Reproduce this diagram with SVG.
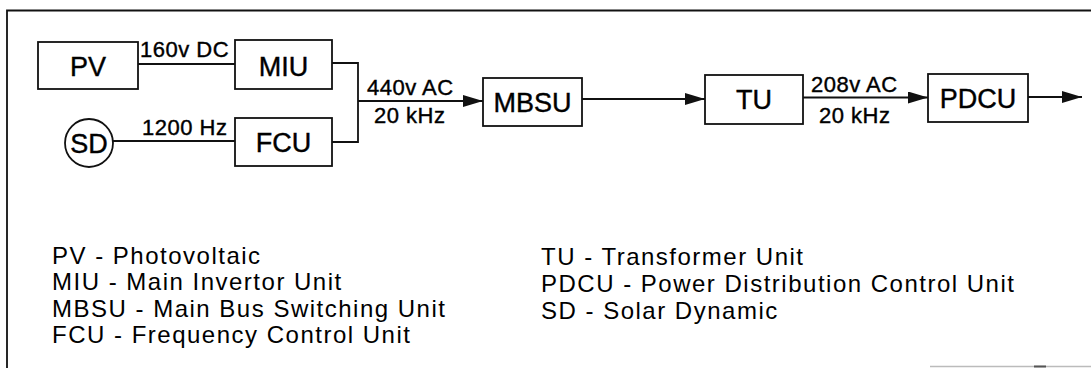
<svg xmlns="http://www.w3.org/2000/svg" width="1091" height="368" viewBox="0 0 1091 368">
<style>
.box{fill:#fff;stroke:#111;stroke-width:1.8}
.ln{fill:none;stroke:#111;stroke-width:1.8}
.lbl{font-family:"Liberation Sans",Arial,sans-serif;font-size:27px;fill:#000;stroke:#000;stroke-width:0.4;text-anchor:middle}
.edge{font-family:"Liberation Sans",Arial,sans-serif;font-size:22px;fill:#000;stroke:#000;stroke-width:0.4;letter-spacing:0.5px}
.leg{font-family:"Liberation Sans",Arial,sans-serif;font-size:24px;fill:#000;letter-spacing:1.5px}
</style>
<defs>
<marker id="arr" markerUnits="userSpaceOnUse" markerWidth="22" markerHeight="14" refX="20" refY="6" orient="auto">
<path d="M0,0 L20,6 L0,12 Z" fill="#111"/>
</marker>
</defs>
<rect width="1091" height="368" fill="#fff"/>
<g id="frame">
<path class="ln" d="M7,368 V10.5 H1091"/>
<path d="M930,366.5 H1091" stroke="#bbb" stroke-width="1.5"/>
<path d="M1034,366.5 H1046" stroke="#555" stroke-width="2"/>
</g>
<g id="connectors">
<path class="ln" d="M138,64 H235"/>
<path class="ln" d="M113,141 H235"/>
<path class="ln" d="M332,63 H358 V142 H332"/>
<path class="ln" d="M358,101 H483" marker-end="url(#arr)"/>
<path class="ln" d="M582,99 H705" marker-end="url(#arr)"/>
<path class="ln" d="M803,97.5 H928" marker-end="url(#arr)"/>
<path class="ln" d="M1028,97 H1082" marker-end="url(#arr)"/>
<text class="edge" x="140" y="57">160v DC</text>
<text class="edge" x="142" y="135">1200 Hz</text>
<text class="edge" x="367" y="95">440v AC</text>
<text class="edge" x="374" y="123">20 kHz</text>
<text class="edge" x="811" y="92">208v AC</text>
<text class="edge" x="819" y="123">20 kHz</text>
</g>
<g id="PV"><rect class="box" x="38" y="42" width="100" height="47"/><text class="lbl" x="88" y="76">PV</text></g>
<g id="MIU"><rect class="box" x="235" y="40" width="97" height="49"/><text class="lbl" x="283.5" y="76">MIU</text></g>
<g id="SD"><circle class="box" cx="89" cy="143" r="24"/><text class="lbl" x="89" y="152.5">SD</text></g>
<g id="FCU"><rect class="box" x="235" y="118" width="97" height="48"/><text class="lbl" x="283.5" y="152">FCU</text></g>
<g id="MBSU"><rect class="box" x="483" y="78" width="99" height="48"/><text class="lbl" x="532.5" y="111.5">MBSU</text></g>
<g id="TU"><rect class="box" x="705" y="75" width="98" height="49"/><text class="lbl" x="754" y="109">TU</text></g>
<g id="PDCU"><rect class="box" x="928" y="74" width="100" height="48"/><text class="lbl" x="978" y="107.5">PDCU</text></g>
<g id="legend">
<text class="leg" x="52" y="264">PV - Photovoltaic</text>
<text class="leg" x="52" y="290">MIU - Main Invertor Unit</text>
<text class="leg" x="52" y="317">MBSU - Main Bus Switching Unit</text>
<text class="leg" x="52" y="343">FCU - Frequency Control Unit</text>
<text class="leg" x="541" y="265">TU - Transformer Unit</text>
<text class="leg" x="541" y="292">PDCU - Power Distribution Control Unit</text>
<text class="leg" x="541" y="319">SD - Solar Dynamic</text>
</g>
</svg>
